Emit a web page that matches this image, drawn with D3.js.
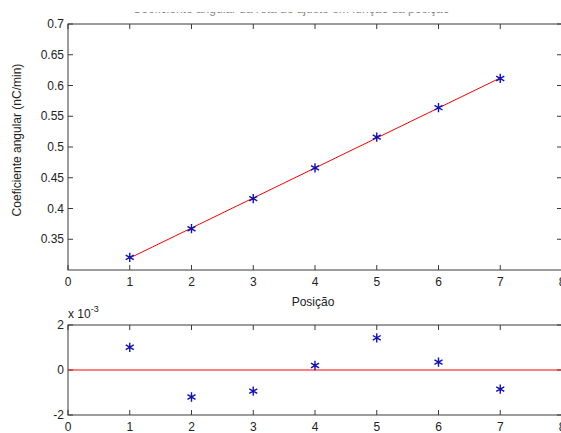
<!DOCTYPE html>
<html>
<head>
<meta charset="utf-8">
<script src="https://cdn.jsdelivr.net/npm/d3@7"></script>
<style>
  body { margin: 0; background: #fff; }
  text { font-family: "Liberation Sans", Arial, sans-serif; fill: #222; }
</style>
</head>
<body>
<div id="chart"></div>
<script>
// posições medidas
let positions = [1, 2, 3, 4, 5, 6, 7];
// coeficiente angular medido (nC/min)
let slopes = [0.3205, 0.3671, 0.4161, 0.4661, 0.5161, 0.5639, 0.6114];
// reta de ajuste (extremos)
let fitX = [1, 7];
let fitY = [0.3195, 0.6123];
// resíduos (x 10^-3)
let residuals = [1.01, -1.2, -0.94, 0.2, 1.43, 0.35, -0.85];

let xTicks = [0, 1, 2, 3, 4, 5, 6, 7, 8];
let yTicksTop = [0.35, 0.4, 0.45, 0.5, 0.55, 0.6, 0.65, 0.7];
let yTicksBottom = [-2, 0, 2];

let width = 561, height = 433;

let svg = d3.select("#chart").append("svg")
    .attr("width", width)
    .attr("height", height);

let x = d3.scaleLinear().domain([0, 8]).range([68, 562]);
let yTop = d3.scaleLinear().domain([0.3, 0.7]).range([270, 24]);
let yBot = d3.scaleLinear().domain([-2, 2]).range([415, 325]);

let axisColor = "#3a3a3a";

// title, mostly cut off by the top of the image
svg.append("defs").append("clipPath")
    .attr("id", "titleClip")
    .append("rect")
    .attr("x", 0).attr("y", 12)
    .attr("width", width).attr("height", 8);

svg.append("text")
    .attr("x", 291)
    .attr("y", 13)
    .attr("text-anchor", "middle")
    .attr("clip-path", "url(#titleClip)")
    .style("font-size", "12px")
    .style("fill", "#888")
    .text("Coeficiente angular da reta de ajuste em função da posição");

function drawFrame(y, yTicks, fmt) {
    let g = svg.append("g");
    let [y0, y1] = y.range();

    // x ticks (bottom and top, inward)
    xTicks.forEach(t => {
        g.append("line")
            .attr("x1", x(t)).attr("x2", x(t))
            .attr("y1", y0).attr("y2", y0 - 5)
            .attr("stroke", axisColor);
        g.append("line")
            .attr("x1", x(t)).attr("x2", x(t))
            .attr("y1", y1).attr("y2", y1 + 5)
            .attr("stroke", axisColor);
        g.append("text")
            .attr("x", x(t))
            .attr("y", y0 + 16)
            .attr("text-anchor", "middle")
            .style("font-size", "12px")
            .text(t);
    });

    // y ticks (left and right, inward)
    yTicks.forEach(t => {
        g.append("line")
            .attr("x1", x(0)).attr("x2", x(0) + 5)
            .attr("y1", y(t)).attr("y2", y(t))
            .attr("stroke", axisColor);
        g.append("line")
            .attr("x1", x(8)).attr("x2", x(8) - 5)
            .attr("y1", y(t)).attr("y2", y(t))
            .attr("stroke", axisColor);
        g.append("text")
            .attr("x", x(0) - 4)
            .attr("y", y(t) + 4)
            .attr("text-anchor", "end")
            .style("font-size", "12px")
            .text(fmt(t));
    });

    // box
    g.append("rect")
        .attr("x", x(0)).attr("y", y1)
        .attr("width", x(8) - x(0))
        .attr("height", y0 - y1)
        .attr("fill", "none")
        .attr("stroke", axisColor);
}

drawFrame(yTop, yTicksTop, d => d3.format("")(+d.toFixed(2)));
drawFrame(yBot, yTicksBottom, d => d);

let star = d3.symbol().type(d3.symbolAsterisk).size(60);

// upper plot: fit line + data
svg.append("path")
    .datum(fitX.map((d, i) => [d, fitY[i]]))
    .attr("d", d3.line().x(d => x(d[0])).y(d => yTop(d[1])))
    .attr("stroke", "#ff0000")
    .attr("fill", "none");

svg.append("g").selectAll("path")
    .data(positions)
    .join("path")
    .attr("transform", (d, i) => `translate(${x(d)},${yTop(slopes[i])})`)
    .attr("d", star)
    .attr("stroke", "#1010b8")
    .attr("stroke-width", 1.4)
    .attr("fill", "none");

// lower plot: residuals
svg.append("line")
    .attr("x1", x(0)).attr("x2", x(8))
    .attr("y1", yBot(0)).attr("y2", yBot(0))
    .attr("stroke", "#ff0000");

svg.append("g").selectAll("path")
    .data(positions)
    .join("path")
    .attr("transform", (d, i) => `translate(${x(d)},${yBot(residuals[i])})`)
    .attr("d", star)
    .attr("stroke", "#1010b8")
    .attr("stroke-width", 1.4)
    .attr("fill", "none");

// labels
svg.append("text")
    .attr("transform", "translate(21,140) rotate(-90)")
    .attr("text-anchor", "middle")
    .style("font-size", "12px")
    .text("Coeficiente angular (nC/min)");

svg.append("text")
    .attr("x", 313)
    .attr("y", 306)
    .attr("text-anchor", "middle")
    .style("font-size", "12px")
    .text("Posição");

let mult = svg.append("text")
    .attr("x", 68)
    .attr("y", 318)
    .style("font-size", "12px");
mult.append("tspan").text("x 10");
mult.append("tspan").attr("dy", -6).style("font-size", "9px").text("-3");
</script>
</body>
</html>
